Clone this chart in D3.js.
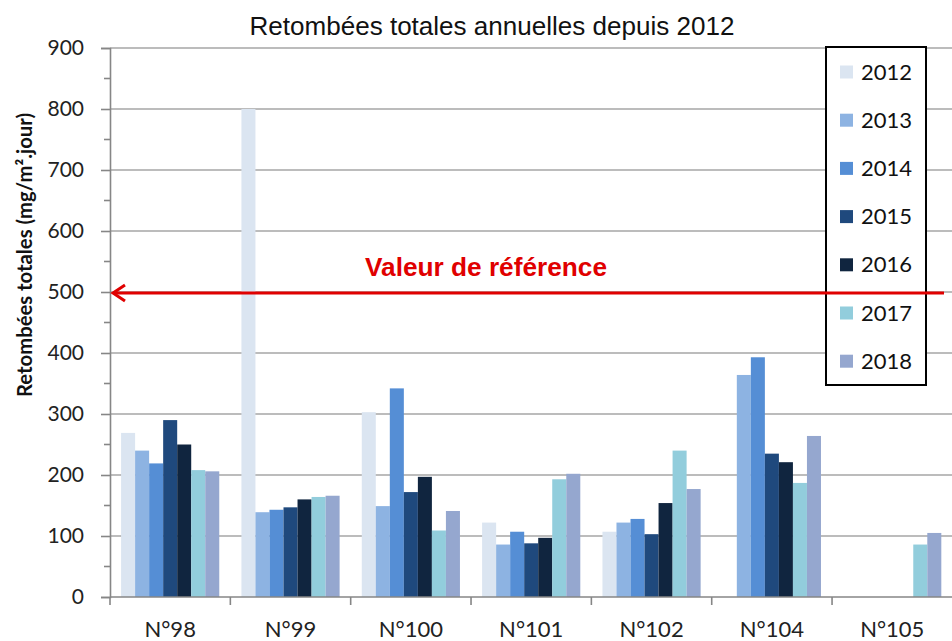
<!DOCTYPE html>
<html><head><meta charset="utf-8">
<script src="https://cdn.jsdelivr.net/npm/d3@7/dist/d3.min.js"></script>
<style>body{margin:0;background:#fff}</style>
</head><body>
<script>
const categories = ["N°98","N°99","N°100","N°101","N°102","N°104","N°105"];
const years = ["2012","2013","2014","2015","2016","2017","2018"];
const v2012 = [269, 800, 303, 122, 107, null, null];
const v2013 = [240, 139, 149, 86, 122, 364, null];
const v2014 = [219, 143, 342, 107, 128, 393, null];
const v2015 = [290, 147, 172, 88, 103, 235, null];
const v2016 = [250, 160, 197, 97, 154, 221, null];
const v2017 = [208, 164, 109, 193, 240, 187, 86];
const v2018 = [206, 166, 141, 202, 177, 264, 105];
const yTicks = [0,100,200,300,400,500,600,700,800,900];
const referenceValue = 500;
const colors = ["#dbe5f1","#8db3e2","#558ed5","#1f497d","#10253f","#92cddc","#95a7cf"];
const series = [v2012,v2013,v2014,v2015,v2016,v2017,v2018];

(function(){
const W = 952, H = 641;
const mLeft = 110, mRight = 952, mTop = 48, mBottom = 597;
const svg = d3.select("body").append("svg").attr("width", W).attr("height", H);

const x = d3.scaleBand().domain(categories).range([mLeft, mRight + 0.4]).padding(0);
const xi = d3.scaleBand().domain(years).range([0, x.bandwidth()]).paddingInner(0).paddingOuter(0.79);
const y = d3.scaleLinear().domain([0, 900]).range([mBottom, mTop]);

const font = "Lato, 'Open Sans', sans-serif";
const narrow = "'Liberation Sans Narrow', 'Liberation Sans', sans-serif";

// gridlines
svg.append("g").selectAll("line").data(yTicks.filter(d => d > 0)).join("line")
  .attr("x1", mLeft).attr("x2", mRight).attr("y1", d => y(d)).attr("y2", d => y(d))
  .attr("stroke", "#a6a6a6").attr("stroke-width", 1.6);

// bars
const rows = [];
categories.forEach((c, i) => years.forEach((yr, j) => {
  if (series[j][i] != null) rows.push({c, yr, v: series[j][i], col: colors[j]});
}));
svg.append("g").selectAll("rect").data(rows).join("rect")
  .attr("x", d => x(d.c) + xi(d.yr)).attr("width", xi.bandwidth())
  .attr("y", d => y(d.v)).attr("height", d => y(0) - y(d.v))
  .attr("fill", d => d.col);

// y axis
const yAxis = svg.append("g").attr("transform", `translate(${mLeft},0)`)
  .call(d3.axisLeft(y).tickValues(yTicks).tickSize(9).tickPadding(17).tickFormat(d3.format("d")));
yAxis.select(".domain").attr("stroke", "#868686").attr("stroke-width", 1.6);
yAxis.selectAll(".tick line").attr("stroke", "#868686").attr("stroke-width", 1.6);
yAxis.selectAll(".tick text").attr("font-family", font).attr("font-size", 21).attr("fill", "#222");
// minor ticks
svg.append("g").selectAll("line").data(d3.range(50, 900, 100)).join("line")
  .attr("x1", mLeft - 6).attr("x2", mLeft).attr("y1", d => y(d)).attr("y2", d => y(d))
  .attr("stroke", "#868686").attr("stroke-width", 1.6);

// x axis
const xAxis = svg.append("g").attr("transform", `translate(0,${mBottom})`)
  .call(d3.axisBottom(x).tickSize(0).tickPadding(24));
xAxis.select(".domain").remove();
xAxis.selectAll(".tick text").attr("font-family", font).attr("font-size", 22).attr("fill", "#222");
svg.append("line").attr("x1", mLeft).attr("x2", mRight).attr("y1", mBottom).attr("y2", mBottom)
  .attr("stroke", "#868686").attr("stroke-width", 1.6);
svg.append("g").selectAll("line").data(categories).join("line")
  .attr("x1", d => x(d)).attr("x2", d => x(d)).attr("y1", mBottom).attr("y2", mBottom + 8)
  .attr("stroke", "#868686").attr("stroke-width", 1.6);

// title
svg.append("text").attr("x", 492).attr("y", 35).attr("text-anchor", "middle")
  .attr("font-family", narrow).attr("font-size", 25)
  .attr("textLength", 485).attr("lengthAdjust", "spacingAndGlyphs").attr("fill", "#111")
  .text("Retombées totales annuelles depuis 2012");

// y label
svg.append("text").attr("transform", "translate(32,255) rotate(-90)").attr("text-anchor", "middle")
  .attr("font-family", font).attr("font-weight", "bold").attr("font-size", 21)
  .attr("textLength", 284).attr("lengthAdjust", "spacingAndGlyphs").attr("fill", "#111")
  .text("Retombées totales (mg/m².jour)");

// legend
const lg = svg.append("g");
lg.append("rect").attr("x", 826).attr("y", 47).attr("width", 100).attr("height", 338)
  .attr("fill", "#fff").attr("stroke", "#000").attr("stroke-width", 2);
const li = lg.selectAll("g.item").data(years).join("g").attr("class", "item")
  .attr("transform", (d, i) => `translate(840,${72 + i * 48.2})`);
li.append("rect").attr("x", 0).attr("y", -6.5).attr("width", 13).attr("height", 13)
  .attr("fill", (d, i) => colors[i]);
li.append("text").attr("x", 21).attr("y", 7.5).attr("font-family", font).attr("font-size", 22)
  .attr("fill", "#111").text(d => d);

// reference line
const yr = y(referenceValue) + 1;
svg.append("line").attr("x1", 113).attr("x2", 944).attr("y1", yr).attr("y2", yr)
  .attr("stroke", "#e00000").attr("stroke-width", 3);
svg.append("path").attr("d", `M${125},${yr - 8} L${113},${yr} L${125},${yr + 8}`)
  .attr("fill", "none").attr("stroke", "#e00000").attr("stroke-width", 3);
svg.append("text").attr("x", 486).attr("y", 276).attr("text-anchor", "middle")
  .attr("font-family", narrow).attr("font-weight", "bold")
  .attr("font-size", 25).attr("textLength", 242).attr("lengthAdjust", "spacingAndGlyphs")
  .attr("fill", "#e00000").text("Valeur de référence");
})();
</script>
</body></html>
